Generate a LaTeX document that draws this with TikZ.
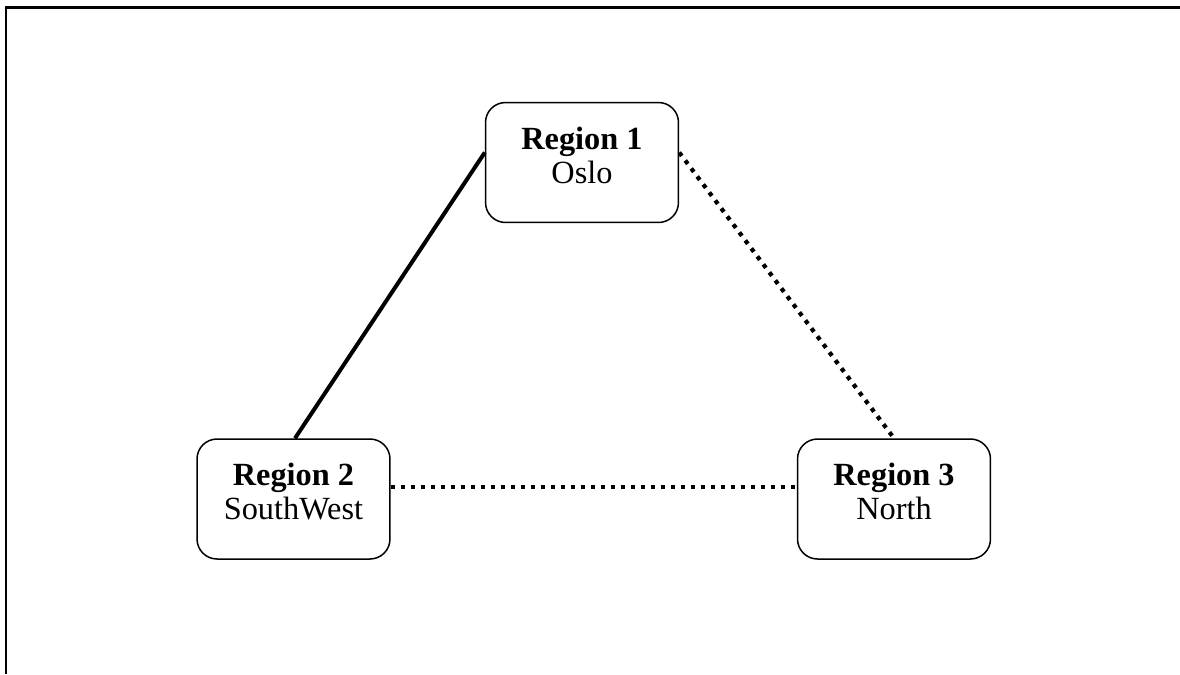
\documentclass[tikz,border=0pt]{standalone}
\usepackage{fontspec}
\setmainfont{Liberation Serif}
\usetikzlibrary{positioning}

\tikzset{
    regionbox/.style={draw, rectangle, rounded corners=0.4cm, line width=0.03cm, minimum width=3.86cm, minimum height=2.4cm},
    regiontext/.style={align=center, inner sep=0pt, font=\fontsize{18.4}{19.4}\selectfont},
    mainlink/.style={line width=0.08cm},
    backuplink/.style={line width=0.085cm, dash pattern=on 0.085cm off 0.115cm}
}

\begin{document}
\begin{tikzpicture}[x=0.02cm, y=-0.02cm]
        \useasboundingbox (0,0) rectangle (1180,674);
        % Frame
        \draw[line width=0.045cm] (6,674) -- (6,7.5) -- (1180,7.5);

        % Region 1
        \node[regionbox] (r1) at (582,162.5) {};
        \node[regiontext, anchor=north] (r1t) at ([yshift=-0.49cm]r1.north) {\textbf{Region 1}\\Oslo};

        % Region 2
        \node[regionbox] (r2) at (293.5,499) {};
        \node[regiontext, anchor=north] (r2t) at ([yshift=-0.49cm]r2.north) {\textbf{Region 2}\\SouthWest};

        % Region 3
        \node[regionbox] (r3) at (894,499) {};
        \node[regiontext, anchor=north] (r3t) at ([yshift=-0.49cm]r3.north) {\textbf{Region 3}\\North};

        % Links
        \draw[mainlink] ([yshift=0.2cm]r1.west) -- ([xshift=0.03cm]r2.north);
        \draw[backuplink] ([yshift=0.2cm]r1.east) -- (r3.north);
        \draw[backuplink] ([yshift=0.24cm]r2.east) -- ([yshift=0.24cm]r3.west);
    \end{tikzpicture}
\end{document}
